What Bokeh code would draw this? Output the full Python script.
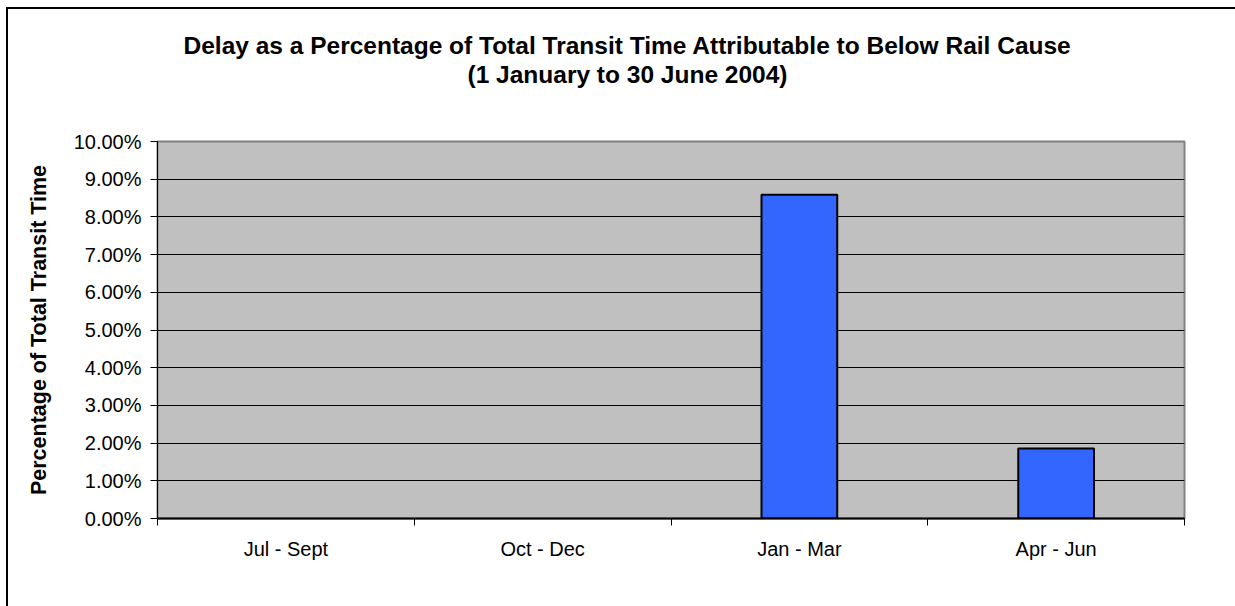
import math

from bokeh.embed import file_html
from bokeh.models import (ColumnDataSource, FixedTicker, InlineStyleSheet,
                          NumeralTickFormatter, Range1d, Title)
from bokeh.plotting import figure
from bokeh.resources import INLINE

# Quarterly share of transit time lost to below-rail causes
quarters = ["Jul - Sept", "Oct - Dec", "Jan - Mar", "Apr - Jun"]
delay_share = [math.nan, math.nan, 0.0859, 0.0186]
y_ticks = [i / 100 for i in range(0, 11)]

title_line1 = "Delay as a Percentage of Total Transit Time Attributable to Below Rail Cause"
title_line2 = "(1 January to 30 June 2004)"
y_label = "Percentage of Total Transit Time"

FONT = "Liberation Sans"
TITLE_SIZE = "24.5px"

centers = [i + 0.5 for i in range(len(quarters))]
source = ColumnDataSource(dict(x=centers, top=delay_share, quarter=quarters))

p = figure(
    width=1235, height=606,
    x_range=Range1d(0, len(quarters)), y_range=Range1d(0, 0.10),
    output_backend="svg", toolbar_location=None,
    min_border_left=157, min_border_right=51,
    min_border_top=141, min_border_bottom=88,
    background_fill_color="#C0C0C0",
    border_fill_alpha=0,
)
p.title = None

# Chart-area border: left and top edges only, the rest runs off the page.
# A white inset shadow masks the outer 6-7px of a black one.
p.stylesheets = [InlineStyleSheet(css=(
    ":host { background-color: #fff; "
    "box-shadow: inset 6px 7px 0 0 #fff, inset 8px 9px 0 0 #000; }"
))]

# Title block: a blank gap above the frame, then the two title lines.
# Panels stack outward from the frame, so the gap goes in first.
p.add_layout(Title(text=" ", text_font=FONT, text_font_size=TITLE_SIZE,
                   standoff=25), "above")
p.add_layout(Title(text=title_line2, align="left", offset=310,
                   text_font=FONT, text_font_size=TITLE_SIZE,
                   text_font_style="bold", text_color="black",
                   standoff=0), "above")
p.add_layout(Title(text=title_line1, align="left", offset=26,
                   text_font=FONT, text_font_size=TITLE_SIZE,
                   text_font_style="bold", text_color="black",
                   standoff=0), "above")

p.vbar(x="x", top="top", width=0.295, source=source,
       fill_color="#3366FF", line_color="black", line_width=2)

# Frame outline and grid
p.outline_line_color = "#808080"
p.outline_line_width = 2
p.xgrid.visible = False
p.ygrid.ticker = FixedTicker(ticks=y_ticks[1:-1])
p.ygrid.grid_line_color = "black"
p.ygrid.grid_line_width = 1

# Y axis
p.yaxis.ticker = FixedTicker(ticks=y_ticks)
p.yaxis.formatter = NumeralTickFormatter(format="0.00%")
p.yaxis.axis_label = y_label
p.yaxis.axis_label_text_font = FONT
p.yaxis.axis_label_text_font_size = "21.5px"
p.yaxis.axis_label_text_font_style = "bold"
p.yaxis.axis_label_text_color = "black"
p.yaxis.axis_label_standoff = 20
p.yaxis.major_label_text_font = FONT
p.yaxis.major_label_text_font_size = "20px"
p.yaxis.major_label_text_color = "black"
p.yaxis.major_label_standoff = 9
p.yaxis.major_tick_out = 7
p.yaxis.major_tick_in = 0
p.yaxis.minor_tick_line_color = None
p.yaxis.axis_line_color = "black"
p.yaxis.axis_line_width = 1
p.yaxis.major_tick_line_color = "black"

# X axis: labels at category centres, tick marks between categories
p.xaxis.ticker = FixedTicker(ticks=centers,
                             minor_ticks=list(range(len(quarters) + 1)))
p.xaxis.major_label_overrides = {c: q for c, q in zip(centers, quarters)}
p.xaxis.major_label_text_font = FONT
p.xaxis.major_label_text_font_size = "20px"
p.xaxis.major_label_text_color = "black"
p.xaxis.major_label_standoff = 12
p.xaxis.major_tick_line_color = None
p.xaxis.minor_tick_out = 7
p.xaxis.minor_tick_in = 0
p.xaxis.minor_tick_line_color = "black"
p.xaxis.axis_line_color = "black"
p.xaxis.axis_line_width = 2

open("out.html", "w").write(file_html(p, INLINE))
